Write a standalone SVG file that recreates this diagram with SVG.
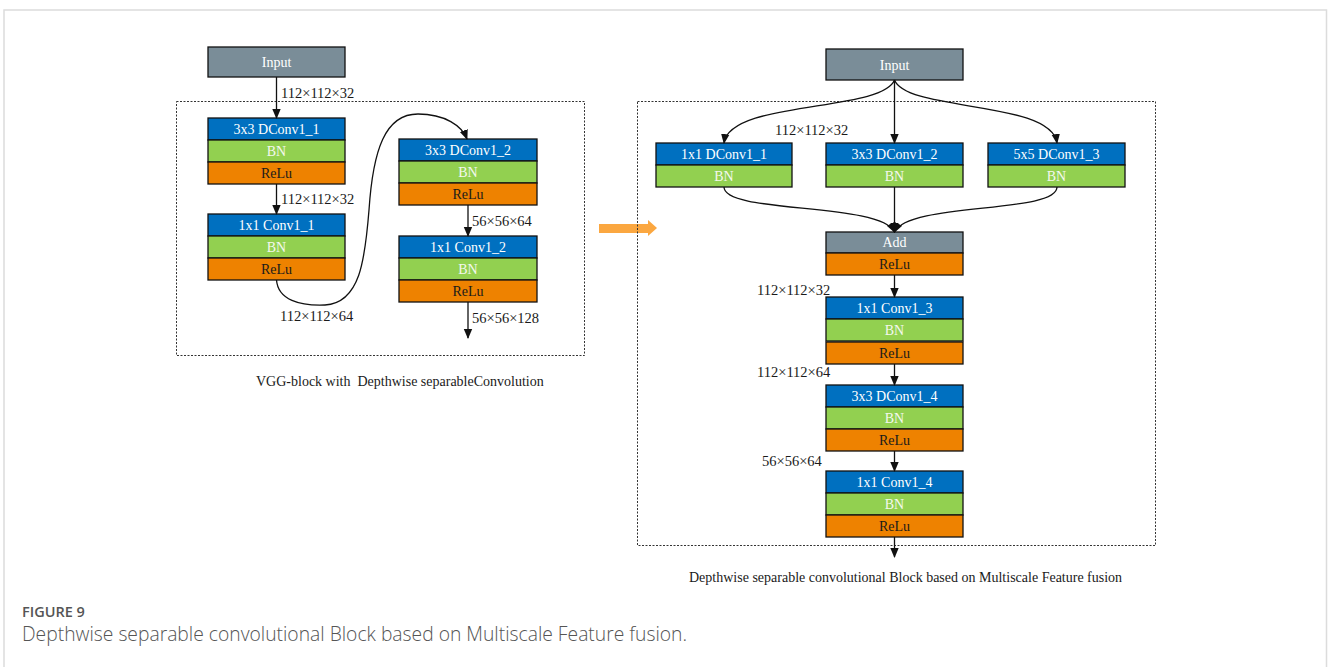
<svg xmlns="http://www.w3.org/2000/svg" width="1328" height="667" viewBox="0 0 1328 667">
  <defs>
    <style>
      .bg { fill: #ffffff; }
      .frame { fill: none; stroke: #dcdcdc; stroke-width: 1.5; }
      .dash { fill: none; stroke: #333; stroke-width: 1; stroke-dasharray: 2 1.5; }
      .blue { fill: #0070C0; stroke: #111; stroke-width: 1.3; }
      .green { fill: #92D050; stroke: #111; stroke-width: 1.3; }
      .orange { fill: #EE8200; stroke: #111; stroke-width: 1.3; }
      .gray { fill: #7A8D98; stroke: #111; stroke-width: 1.3; }
      .t { font-family: "Liberation Serif", "Times New Roman", serif; font-size: 14px; text-anchor: middle; dominant-baseline: central; }
      .tw { fill: #ffffff; }
      .tg { fill: #f4f8ee; }
      .tk { fill: #1a1a1a; }
      .lbl { font-family: "Liberation Serif", "Times New Roman", serif; font-size: 14.5px; fill: #1a1a1a; dominant-baseline: central; }
      .cap { font-family: "Liberation Serif", "Times New Roman", serif; font-size: 14px; fill: #1a1a1a; dominant-baseline: central; white-space: pre; }
      .edge { fill: none; stroke: #111; stroke-width: 1.3; marker-end: url(#arrow); }
      .fig { font-family: "Open Sans", "Noto Sans", sans-serif; fill: #555; }
    </style>
    <marker id="arrow" markerUnits="userSpaceOnUse" markerWidth="10" markerHeight="10" viewBox="0 0 10 10" refX="9" refY="5" orient="auto">
      <path d="M0,0.8 L10,5 L0,9.2 Z" fill="#111"/>
    </marker>
  </defs>

  <rect class="bg" x="0" y="0" width="1328" height="667"/>
  <path class="frame" d="M4,667 V10 H1326.5 V667"/>

  <!-- ===== Left: VGG block ===== -->
  <rect class="dash" x="176.5" y="101.5" width="408" height="254"/>

  <g id="l-input">
    <rect class="gray" x="208" y="47" width="137" height="30"/>
    <text class="t tw" x="276.5" y="62">Input</text>
  </g>

  <g id="l-block1">
    <rect class="blue" x="208" y="118" width="137" height="22"/>
    <rect class="green" x="208" y="140" width="137" height="22"/>
    <rect class="orange" x="208" y="162" width="137" height="22"/>
    <text class="t tw" x="276.5" y="129">3x3 DConv1_1</text>
    <text class="t tg" x="276.5" y="151">BN</text>
    <text class="t tk" x="276.5" y="173">ReLu</text>
  </g>

  <g id="l-block2">
    <rect class="blue" x="208" y="214" width="137" height="22"/>
    <rect class="green" x="208" y="236" width="137" height="22"/>
    <rect class="orange" x="208" y="258" width="137" height="22"/>
    <text class="t tw" x="276.5" y="225">1x1 Conv1_1</text>
    <text class="t tg" x="276.5" y="247">BN</text>
    <text class="t tk" x="276.5" y="269">ReLu</text>
  </g>

  <g id="l-block3">
    <rect class="blue" x="399" y="139" width="138" height="22"/>
    <rect class="green" x="399" y="161" width="138" height="22"/>
    <rect class="orange" x="399" y="183" width="138" height="22"/>
    <text class="t tw" x="468" y="150">3x3 DConv1_2</text>
    <text class="t tg" x="468" y="172">BN</text>
    <text class="t tk" x="468" y="194">ReLu</text>
  </g>

  <g id="l-block4">
    <rect class="blue" x="399" y="236" width="138" height="22"/>
    <rect class="green" x="399" y="258" width="138" height="22"/>
    <rect class="orange" x="399" y="280" width="138" height="22"/>
    <text class="t tw" x="468" y="247">1x1 Conv1_2</text>
    <text class="t tg" x="468" y="269">BN</text>
    <text class="t tk" x="468" y="291">ReLu</text>
  </g>

  <g id="l-edges">
    <path class="edge" d="M276.5,77 V118"/>
    <path class="edge" d="M276.5,184 V214"/>
    <path class="edge" d="M276.5,280 C278,300 300,306 325,305 C360,303 365,260 369,210 C373,150 385,114 418,114 C445,114 462,126 467,139"/>
    <path class="edge" d="M468,205 V236"/>
    <path class="edge" d="M468,302 V338"/>
  </g>

  <g id="l-labels">
    <text class="lbl" x="281" y="93">112×112×32</text>
    <text class="lbl" x="281" y="199">112×112×32</text>
    <text class="lbl" x="280" y="316">112×112×64</text>
    <text class="lbl" x="472" y="221">56×56×64</text>
    <text class="lbl" x="472" y="318">56×56×128</text>
    <text class="cap" x="256" y="381">VGG-block with  Depthwise separableConvolution</text>
  </g>

  <!-- transition arrow -->
  <g id="transition">
    <path d="M599,224 H648 V220 L657,228 L648,236 V233 H599 Z" fill="#FBA740"/>
  </g>

  <!-- ===== Right: multiscale block ===== -->
  <rect class="dash" x="637.5" y="101.5" width="518" height="444"/>

  <g id="r-input">
    <rect class="gray" x="826" y="49" width="137" height="31"/>
    <text class="t tw" x="894.5" y="65">Input</text>
  </g>

  <g id="r-branch1">
    <rect class="blue" x="656" y="143" width="136" height="22"/>
    <rect class="green" x="656" y="165" width="136" height="22"/>
    <text class="t tw" x="724" y="154">1x1 DConv1_1</text>
    <text class="t tg" x="724" y="176">BN</text>
  </g>

  <g id="r-branch2">
    <rect class="blue" x="826" y="143" width="137" height="22"/>
    <rect class="green" x="826" y="165" width="137" height="22"/>
    <text class="t tw" x="894.5" y="154">3x3 DConv1_2</text>
    <text class="t tg" x="894.5" y="176">BN</text>
  </g>

  <g id="r-branch3">
    <rect class="blue" x="988" y="143" width="137" height="22"/>
    <rect class="green" x="988" y="165" width="137" height="22"/>
    <text class="t tw" x="1056.5" y="154">5x5 DConv1_3</text>
    <text class="t tg" x="1056.5" y="176">BN</text>
  </g>

  <g id="r-add">
    <rect class="gray" x="826" y="232" width="137" height="21"/>
    <rect class="orange" x="826" y="253" width="137" height="22"/>
    <text class="t tw" x="894.5" y="242.5">Add</text>
    <text class="t tk" x="894.5" y="264">ReLu</text>
  </g>

  <g id="r-conv3">
    <rect class="blue" x="826" y="297" width="137" height="22"/>
    <rect class="green" x="826" y="319" width="137" height="22"/>
    <rect class="orange" x="826" y="342" width="137" height="22"/>
    <text class="t tw" x="894.5" y="308">1x1 Conv1_3</text>
    <text class="t tg" x="894.5" y="330">BN</text>
    <text class="t tk" x="894.5" y="353">ReLu</text>
  </g>

  <g id="r-dconv4">
    <rect class="blue" x="826" y="385" width="137" height="22"/>
    <rect class="green" x="826" y="407" width="137" height="22"/>
    <rect class="orange" x="826" y="429" width="137" height="22"/>
    <text class="t tw" x="894.5" y="396">3x3 DConv1_4</text>
    <text class="t tg" x="894.5" y="418">BN</text>
    <text class="t tk" x="894.5" y="440">ReLu</text>
  </g>

  <g id="r-conv4">
    <rect class="blue" x="826" y="471" width="137" height="22"/>
    <rect class="green" x="826" y="493" width="137" height="22"/>
    <rect class="orange" x="826" y="515" width="137" height="22"/>
    <text class="t tw" x="894.5" y="482">1x1 Conv1_4</text>
    <text class="t tg" x="894.5" y="504">BN</text>
    <text class="t tk" x="894.5" y="526">ReLu</text>
  </g>

  <g id="r-edges">
    <path class="edge" d="M894.5,80 C882,112 730,100 724,143"/>
    <path class="edge" d="M894.5,80 V143"/>
    <path class="edge" d="M894.5,80 C907,112 1051,100 1057,143"/>
    <path class="edge" d="M724,187 C724,214 880,202 894.5,232"/>
    <path class="edge" d="M894.5,187 V232"/>
    <path class="edge" d="M1057,187 C1057,214 909,202 894.5,232"/>
    <path class="edge" d="M894.5,275 V297"/>
    <path class="edge" d="M894.5,364 V385"/>
    <path class="edge" d="M894.5,451 V471"/>
    <path class="edge" d="M894.5,537 V557"/>
  </g>

  <g id="r-labels">
    <text class="lbl" x="775" y="130">112×112×32</text>
    <text class="lbl" x="757" y="290">112×112×32</text>
    <text class="lbl" x="757" y="372">112×112×64</text>
    <text class="lbl" x="762" y="461">56×56×64</text>
    <text class="cap" x="689" y="577">Depthwise separable convolutional Block based on Multiscale Feature fusion</text>
  </g>

  <!-- figure caption -->
  <text class="fig" x="22" y="617" font-size="14.5" font-weight="600">FIGURE 9</text>
  <text class="fig" x="22" y="641" font-size="19.3" font-weight="300">Depthwise separable convolutional Block based on Multiscale Feature fusion.</text>
</svg>
